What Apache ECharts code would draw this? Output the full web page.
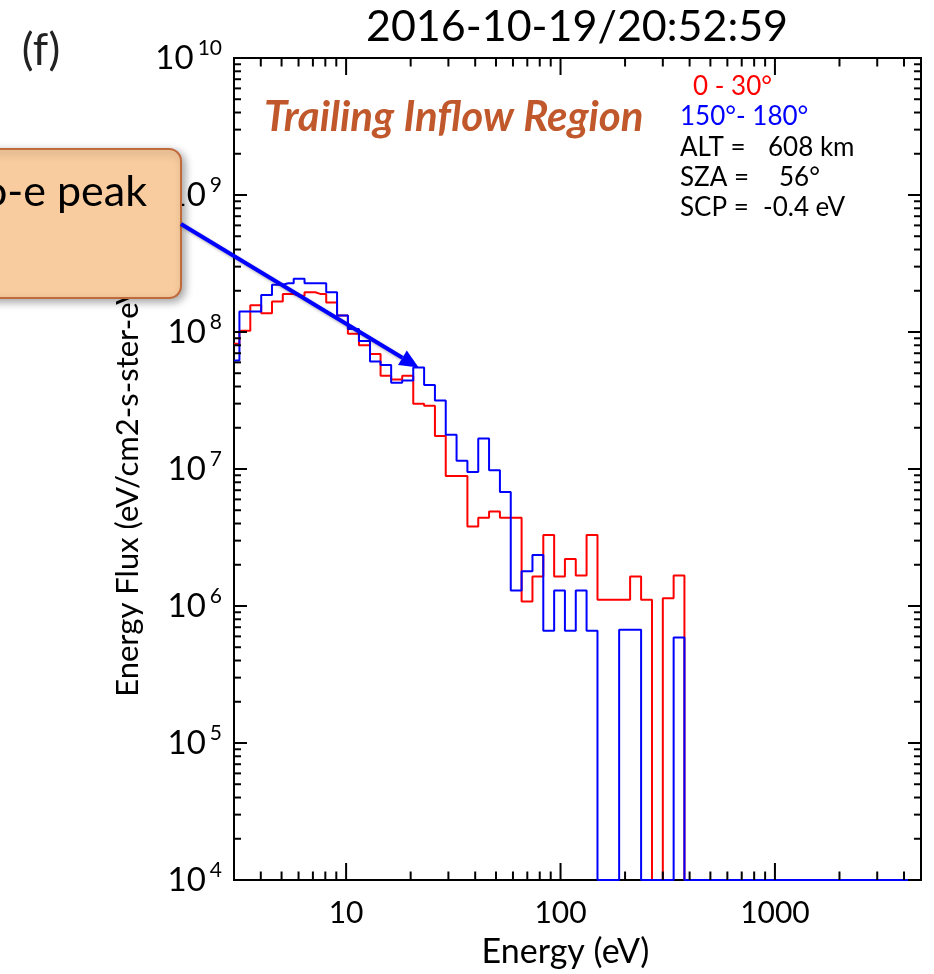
<!DOCTYPE html>
<html><head><meta charset="utf-8">
<script src="https://cdn.jsdelivr.net/npm/echarts@6/dist/echarts.min.js"></script>
<style>html,body{margin:0;padding:0;background:#fff}#c{width:934px;height:974px}</style>
</head><body><div id="c"></div>
<script>
// ---- data ----
const energies = [3.00, 3.37, 3.79, 4.26, 4.78, 5.37, 6.04, 6.78, 7.62, 8.56,
  9.62, 10.8, 12.2, 13.7, 15.3, 17.2, 19.4, 21.8, 24.5, 27.5,
  30.9, 34.7, 39.0, 43.8, 49.2, 55.3, 62.1, 69.8, 78.4, 88.1,
  99.0, 111, 125, 140, 158, 177, 199, 224, 252, 283,
  318, 357, 401, 450, 506, 569, 639, 718, 807, 906,
  1018, 1144, 1285, 1444, 1623, 1823, 2049, 2302, 2587, 2906,
  3266, 3669, 4123, 4633];
const fluxRed = [8.2e7, 1.02e8, 1.57e8, 1.37e8, 1.67e8, 1.89e8, 1.84e8, 1.95e8, 1.89e8, 1.64e8,
  1.32e8, 9.7e7, 8.0e7, 6.9e7, 4.8e7, 4.5e7, 4.8e7, 3.0e7, 2.9e7, 1.74e7,
  8.9e6, 8.9e6, 3.8e6, 4.4e6, 4.9e6, 4.4e6, 4.4e6, 1.08e6, 1.64e6, 3.3e6,
  1.64e6, 2.2e6, 1.67e6, 3.3e6, 1.11e6, 1.11e6, 1.11e6, 1.64e6, 1.11e6, 0,
  1.14e6, 1.67e6, 0, 0, 0, 0, 0, 0, 0, 0,
  0, 0, 0, 0, 0, 0, 0, 0, 0, 0,
  0, 0, 0, 0];
const fluxBlue = [6.2e7, 1.41e8, 1.41e8, 1.86e8, 2.21e8, 2.27e8, 2.45e8, 2.27e8, 2.27e8, 1.95e8,
  1.32e8, 1.05e8, 8.6e7, 6.1e7, 5.75e7, 4.26e7, 4.43e7, 5.5e7, 4.1e7, 3.16e7,
  1.78e7, 1.15e7, 9.5e6, 1.67e7, 9.8e6, 6.8e6, 1.30e6, 1.79e6, 2.36e6, 6.6e5,
  1.30e6, 6.6e5, 1.30e6, 6.6e5, 0, 0, 6.7e5, 6.7e5, 0, 0,
  0, 5.9e5, 0, 0, 0, 0, 0, 0, 0, 0,
  0, 0, 0, 0, 0, 0, 0, 0, 0, 0,
  0, 0, 0, 0];
const seriesNames = ['0 - 30°', '150°- 180°'];
const titleText = '2016-10-19/20:52:59';
const infoKeys = ['ALT =', 'SZA =', 'SCP ='];
const infoVals = ['608 km', '56°', '-0.4 eV'];
const regionText = 'Trailing Inflow Region';
const panelLabel = '(f)';
const calloutText = 'photo-e peak';
const arrowBin = 17; // blue photo-electron peak bin

const X_MIN = 3, X_MAX = 4800, Y_MIN = 1e4, Y_MAX = 1e10;
const FONT = 'Lato';

const xTickVals = [];
for (const d of [1, 10, 100, 1000]) for (let m = 1; m <= 9; m++) { const v = m * d; if (v > X_MIN && v < X_MAX) xTickVals.push(v); }
const yTickVals = [];
for (let p = 4; p <= 9; p++) for (let m = 1; m <= 9; m++) yTickVals.push(m * Math.pow(10, p));
yTickVals.push(1e10);

function isPow10(v) { const l = Math.log10(v); return Math.abs(l - Math.round(l)) < 1e-9; }
function toPts(arr) { return energies.map((e, i) => [e, arr[i] > 0 ? arr[i] : Y_MIN]); }

const chart = echarts.init(document.getElementById('c'), null, {renderer: 'canvas'});

function xTicks(params, api) {
  const v = api.value(0);
  const len = isPow10(v) ? 17 : 8.5;
  const cs = params.coordSys;
  const px = api.coord([v, Y_MIN])[0];
  const yb = cs.y + cs.height, yt = cs.y;
  const st = {stroke: '#000', lineWidth: 2};
  return {type: 'group', children: [
    {type: 'line', shape: {x1: px, y1: yb, x2: px, y2: yb - len}, style: st},
    {type: 'line', shape: {x1: px, y1: yt, x2: px, y2: yt + len}, style: st}
  ]};
}
function yTicks(params, api) {
  const v = api.value(1);
  const len = isPow10(v) ? 13 : 7;
  const cs = params.coordSys;
  const py = api.coord([X_MIN, v])[1];
  const xl = cs.x, xr = cs.x + cs.width;
  const st = {stroke: '#000', lineWidth: 2};
  return {type: 'group', children: [
    {type: 'line', shape: {x1: xl, y1: py, x2: xl + len, y2: py}, style: st},
    {type: 'line', shape: {x1: xr, y1: py, x2: xr - len, y2: py}, style: st}
  ]};
}

function txt(text, x, y, size, color, align, extra) {
  return {
    type: 'text', x: x, y: y, z: 100,
    style: Object.assign({text: text, fontSize: size, fontFamily: FONT, fill: color,
      align: align, verticalAlign: 'middle', textAlign: align, textVerticalAlign: 'middle'}, extra || {})
  };
}

const option = {
  animation: false,
  backgroundColor: '#fff',
  grid: {left: 234, top: 58, width: 687, height: 825, show: true, borderColor: '#000', borderWidth: 2, backgroundColor: 'transparent'},
  xAxis: {
    type: 'log', logBase: 10, min: X_MIN, max: X_MAX,
    axisLine: {show: false}, axisTick: {show: false}, splitLine: {show: false},
    axisLabel: {fontSize: 30, fontFamily: FONT, color: '#000', margin: 18, showMinLabel: false, showMaxLabel: false,
      formatter: v => String(Math.round(v))},
    name: 'Energy (eV)', nameLocation: 'middle', nameGap: 55,
    nameTextStyle: {fontSize: 34, fontFamily: FONT, color: '#000', padding: [0, 24, 0, 0]}
  },
  yAxis: {
    type: 'log', logBase: 10, min: Y_MIN, max: Y_MAX,
    axisLine: {show: false}, axisTick: {show: false}, splitLine: {show: false},
    axisLabel: {margin: 12, color: '#000',
      formatter: v => '{b|10}{s|' + Math.round(Math.log10(v)) + '}',
      rich: {
        b: {fontSize: 33, fontFamily: FONT, color: '#000', lineHeight: 40},
        s: {fontSize: 21, fontFamily: FONT, color: '#000', verticalAlign: 'top', lineHeight: 22, padding: [0, 0, 0, 4]}
      }},
    name: 'Energy Flux (eV/cm2-s-ster-eV)', nameLocation: 'middle', nameGap: 91,
    nameTextStyle: {fontSize: 31, fontFamily: FONT, color: '#000', padding: [0, 34, 0, 0]}
  },
  series: [
    {type: 'line', name: seriesNames[0], data: toPts(fluxRed), step: 'middle', showSymbol: false, symbol: 'none',
      lineStyle: {color: '#FF0000', width: 2}, itemStyle: {color: '#FF0000'}, clip: true, z: 3},
    {type: 'line', name: seriesNames[1], data: toPts(fluxBlue), step: 'middle', showSymbol: false, symbol: 'none',
      lineStyle: {color: '#0000FF', width: 2}, itemStyle: {color: '#0000FF'}, clip: true, z: 4},
    {type: 'custom', renderItem: xTicks, data: xTickVals.map(v => [v, Y_MIN]), clip: false, silent: true, z: 5},
    {type: 'custom', renderItem: yTicks, data: yTickVals.map(v => [X_MIN, v]), clip: false, silent: true, z: 5}
  ]
};
chart.setOption(option);

// annotations
const tip = chart.convertToPixel({gridIndex: 0}, [energies[arrowBin], fluxBlue[arrowBin]]);
const tail = [181, 224];
const dx = tip[0] - tail[0], dy = tip[1] - tail[1];
const L = Math.sqrt(dx * dx + dy * dy), ux = dx / L, uy = dy / L;
const hl = 19, hw = 8.5;
const bx = tip[0] - hl * ux, by = tip[1] - hl * uy;

chart.setOption({
  graphic: {elements: [
    txt(titleText, 577, 27, 43, '#000', 'center'),
    txt(panelLabel, 41, 51, 44, '#222', 'center'),
    txt(regionText, 264, 117, 42, '#C0582B', 'left', {fontWeight: 'bold', fontStyle: 'italic'}),
    txt(seriesNames[0], 693, 87, 26, '#FF0000', 'left'),
    txt(seriesNames[1], 680, 117, 26, '#0000FF', 'left'),
    txt(infoKeys[0], 680, 148, 26, '#000', 'left'),
    txt(infoKeys[1], 680, 178, 26, '#000', 'left'),
    txt(infoKeys[2], 680, 208, 26, '#000', 'left'),
    txt(infoVals[0], 768, 148, 26, '#000', 'left'),
    txt(infoVals[1], 779, 178, 26, '#000', 'left'),
    txt(infoVals[2], 763, 208, 26, '#000', 'left'),
    {type: 'rect', z: 110, shape: {x: -30, y: 149, width: 211, height: 149, r: 12},
      style: {fill: '#F8CC9E', stroke: '#C06A3C', lineWidth: 2, shadowBlur: 8, shadowOffsetX: 3, shadowOffsetY: 3, shadowColor: 'rgba(0,0,0,0.35)'}},
    Object.assign(txt(calloutText, 147, 192, 43, '#000', 'right'), {z: 111}),
    {type: 'line', z: 112, shape: {x1: tail[0], y1: tail[1], x2: bx, y2: by},
      style: {stroke: '#0000FF', lineWidth: 4, shadowBlur: 3, shadowColor: 'rgba(0,0,0,0.3)', shadowOffsetY: 1}},
    {type: 'polygon', z: 112, shape: {points: [[tip[0], tip[1]], [bx - hw * uy, by + hw * ux], [bx + hw * uy, by - hw * ux]]},
      style: {fill: '#0000FF'}}
  ]}
});
</script></body></html>
